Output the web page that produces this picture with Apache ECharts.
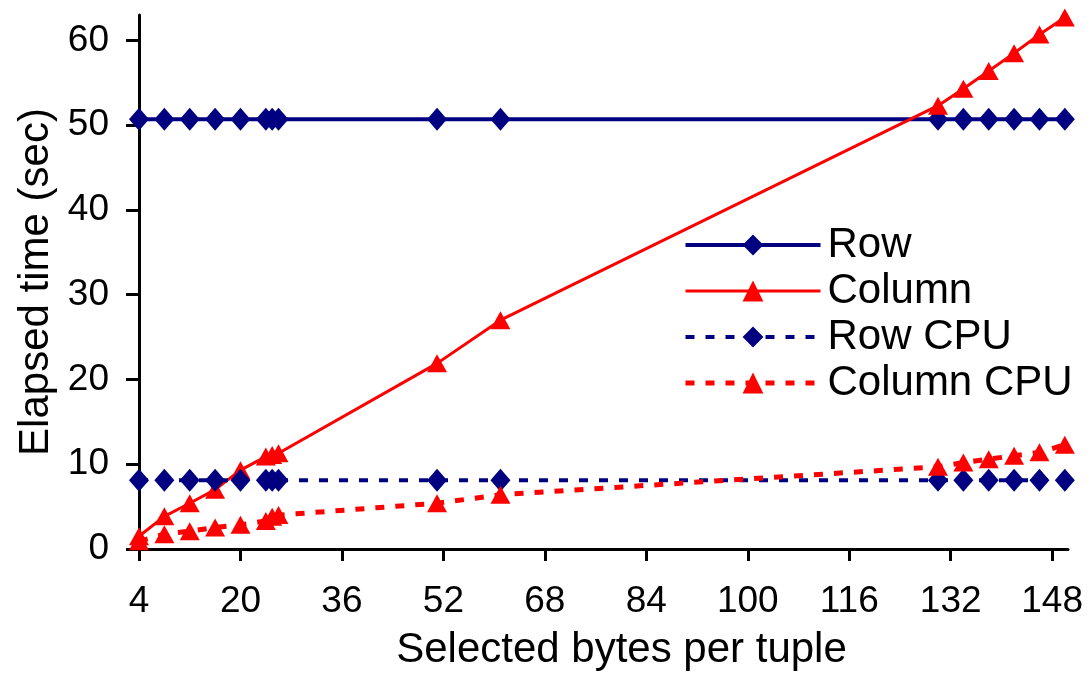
<!DOCTYPE html>
<html>
<head>
<meta charset="utf-8">
<script src="https://cdn.jsdelivr.net/npm/echarts@6/dist/echarts.min.js"></script>
<style>
  html, body { margin: 0; padding: 0; background: #fff; }
  #chart { width: 1088px; height: 676px; }
</style>
</head>
<body>
<div id="chart"></div>
<script>
// selected bytes per tuple
var xBytes = [4, 8, 12, 16, 20, 24, 25, 26, 51, 61, 130, 134, 138, 142, 146, 150];
var rowTime = [50.7, 50.7, 50.7, 50.7, 50.7, 50.7, 50.7, 50.7, 50.7, 50.7, 50.7, 50.7, 50.7, 50.7, 50.7, 50.7];
var columnTime = [1.5, 3.85, 5.4, 7.0, 9.3, 10.9, 11.1, 11.3, 21.9, 27.0, 52.3, 54.3, 56.4, 58.5, 60.7, 62.7];
var rowCpu = [8.1, 8.1, 8.1, 8.1, 8.1, 8.1, 8.1, 8.1, 8.1, 8.1, 8.1, 8.1, 8.1, 8.1, 8.1, 8.1];
var columnCpu = [0.9, 1.75, 2.1, 2.55, 2.85, 3.3, 3.8, 4.0, 5.4, 6.4, 9.7, 10.2, 10.6, 11.0, 11.4, 12.3];
var xTicks = [4, 20, 36, 52, 68, 84, 100, 116, 132, 148];
var yTicks = [0, 10, 20, 30, 40, 50, 60];

var navy = '#000080';
var red = '#ff0000';
var font = 'Liberation Sans';

function pairs(ys) {
    var out = [];
    for (var i = 0; i < xBytes.length; i++) {
        out.push([xBytes[i], ys[i]]);
    }
    return out;
}

function lineSeries(name, ys, color, dashed, symbol, size, width) {
    return {
        name: name,
        type: 'line',
        data: pairs(ys),
        symbol: symbol,
        symbolSize: size,
        showAllSymbol: true,
        itemStyle: { color: color },
        lineStyle: { color: color, width: width, type: dashed ? [9, 11] : 'solid' },
        animation: false
    };
}

var chart = echarts.init(document.getElementById('chart'));
var option = {
    backgroundColor: '#fff',
    textStyle: { fontFamily: font },
    grid: { left: 139, right: 20, top: 15, bottom: 125 },
    legend: {
        orient: 'vertical',
        left: 678,
        top: 219,
        itemWidth: 135,
        itemHeight: 26,
        itemGap: 4,
        lineStyle: { width: 'inherit' },
        textStyle: { fontFamily: font, fontSize: 42, color: '#000', lineHeight: 42, padding: [0, 0, 0, 2] },
        data: ['Row', 'Column', 'Row CPU', 'Column CPU']
    },
    xAxis: {
        type: 'value',
        min: 4,
        max: 150.5,
        name: 'Selected bytes per tuple',
        nameLocation: 'middle',
        nameGap: 80,
        nameTextStyle: { fontFamily: font, fontSize: 42, color: '#000', padding: [0, 0, 0, 36] },
        axisLine: { show: true, lineStyle: { color: '#000', width: 3 } },
        axisTick: { show: true, length: 12, lineStyle: { color: '#000', width: 3 }, customValues: xTicks },
        axisLabel: { fontFamily: font, fontSize: 37, color: '#000', margin: 34, customValues: xTicks },
        splitLine: { show: false }
    },
    yAxis: {
        type: 'value',
        min: 0,
        max: 63,
        name: 'Elapsed time (sec)',
        nameLocation: 'middle',
        nameGap: 78,
        nameTextStyle: { fontFamily: font, fontSize: 42, color: '#000' },
        axisLine: { show: true, lineStyle: { color: '#000', width: 3 } },
        axisTick: { show: true, length: 13, lineStyle: { color: '#000', width: 3 }, customValues: yTicks },
        axisLabel: { fontFamily: font, fontSize: 37, color: '#000', margin: 30, customValues: yTicks },
        splitLine: { show: false }
    },
    series: [
        lineSeries('Row', rowTime, navy, false, 'diamond', [20, 23], 4),
        lineSeries('Column', columnTime, red, false, 'triangle', [20, 18], 3),
        lineSeries('Row CPU', rowCpu, navy, true, 'diamond', [20, 23], 4),
        lineSeries('Column CPU', columnCpu, red, true, 'triangle', [20, 18], 5)
    ]
};
chart.setOption(option);
</script>
</body>
</html>
